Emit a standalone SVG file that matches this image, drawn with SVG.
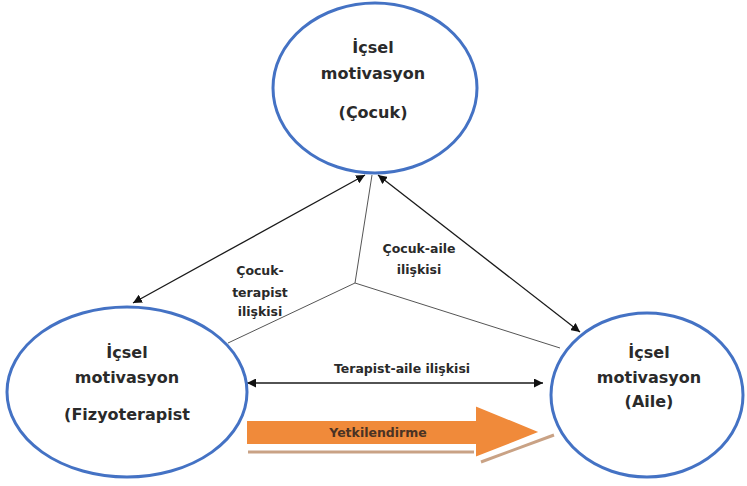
<svg xmlns="http://www.w3.org/2000/svg" width="747" height="486" viewBox="0 0 747 486">
<style>
.node{fill:#fff;stroke:#4472C4;stroke-width:3}
.t{font-family:"DejaVu Sans",Verdana,sans-serif;font-weight:bold;fill:#2a2a2a;text-anchor:middle}
.nt{font-size:16px}
.lt{font-size:12.5px}
.arr{stroke:#1a1a1a;stroke-width:1.3;fill:none;marker-start:url(#ah);marker-end:url(#ah)}
.thin{stroke:#555;stroke-width:1;fill:none}
.shadow{stroke:#c9a285;stroke-width:3;fill:none}
</style>
<defs>
<marker id="ah" viewBox="0 0 10 10" refX="10" refY="5" markerWidth="9" markerHeight="9" markerUnits="userSpaceOnUse" orient="auto-start-reverse">
<path d="M0,0 L10,5 L0,10 Z" fill="#111"/>
</marker>
</defs>
<rect width="747" height="486" fill="#fff"/>
<g id="connectors">
<line class="thin" x1="355" y1="283" x2="372" y2="175"/>
<line class="thin" x1="355" y1="283" x2="228" y2="343"/>
<line class="thin" x1="355" y1="283" x2="560" y2="348"/>
<line class="arr" x1="365" y1="175" x2="133" y2="303"/>
<line class="arr" x1="378" y1="175" x2="580" y2="332"/>
<line class="arr" x1="247" y1="383" x2="543" y2="383"/>
<text class="t lt" x="260" y="275">Çocuk-</text>
<text class="t lt" x="260" y="297">terapist</text>
<text class="t lt" x="260" y="316">ilişkisi</text>
<text class="t lt" x="419" y="253">Çocuk-aile</text>
<text class="t lt" x="419" y="274">ilişkisi</text>
<text class="t lt" x="402" y="373">Terapist-aile ilişkisi</text>
</g>
<g id="yetkilendirme">
<line class="shadow" x1="248" y1="452" x2="478" y2="452"/>
<line class="shadow" x1="481" y1="462" x2="554" y2="435"/>
<polygon points="246,420 475,420 475,405 541,432 475,458 475,445 246,445" fill="#F08A3A" stroke="#fff" stroke-width="2"/>
<text x="378" y="437" font-family="DejaVu Sans, Verdana, sans-serif" font-size="12.5" font-weight="bold" fill="#4a3324" text-anchor="middle">Yetkilendirme</text>
</g>
<g id="node-cocuk">
<ellipse class="node" cx="375" cy="88" rx="102" ry="85"/>
<text class="t nt" x="373" y="53">İçsel</text>
<text class="t nt" x="373" y="79">motivasyon</text>
<text class="t nt" x="373" y="118">(Çocuk)</text>
</g>
<g id="node-fizyoterapist">
<ellipse class="node" cx="127" cy="392" rx="120" ry="85"/>
<text class="t nt" x="127" y="358">İçsel</text>
<text class="t nt" x="127" y="383">motivasyon</text>
<text class="t nt" x="127" y="420">(Fizyoterapist</text>
</g>
<g id="node-aile">
<ellipse class="node" cx="647" cy="395" rx="96" ry="82"/>
<text class="t nt" x="649" y="358">İçsel</text>
<text class="t nt" x="649" y="383">motivasyon</text>
<text class="t nt" x="649" y="407">(Aile)</text>
</g>
</svg>
